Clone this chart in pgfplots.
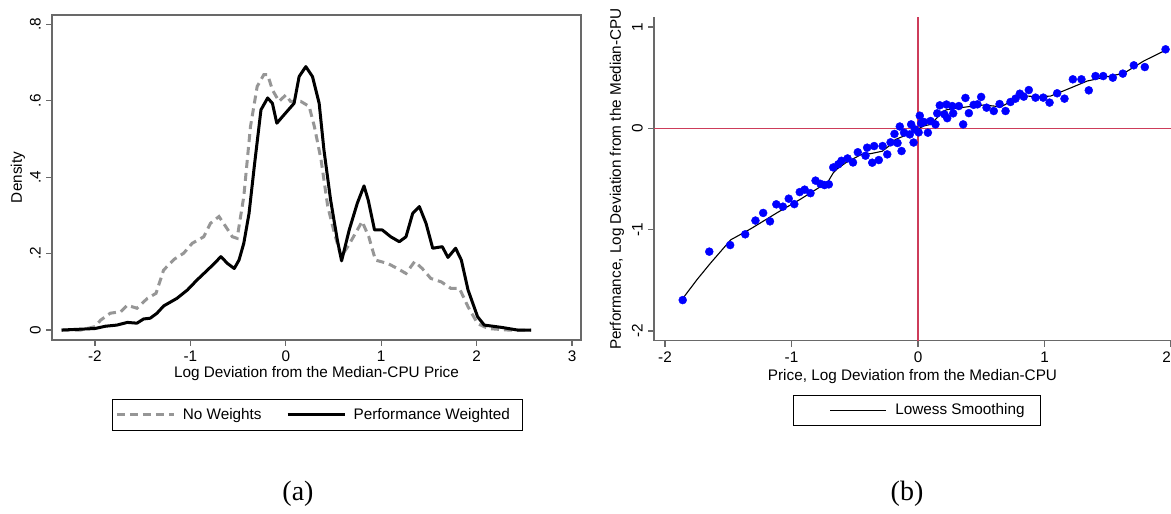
\documentclass[border=0pt]{standalone}
\usepackage{fontspec}
\setmainfont{Liberation Sans}
\newfontfamily\capfont{Liberation Serif}
\usepackage{pgfplots}
\pgfplotsset{compat=1.18}
\definecolor{axgray}{RGB}{105,105,105}
\definecolor{dashgray}{RGB}{150,150,150}
\definecolor{refred}{RGB}{205,60,90}

\pgfplotstableread{
x y
-2.35 0
-2.15 0
-2.0 0.009
-1.94 0.026
-1.84 0.044
-1.73 0.048
-1.66 0.065
-1.56 0.057
-1.45 0.083
-1.36 0.096
-1.28 0.157
-1.17 0.185
-1.07 0.201
-0.98 0.227
-0.86 0.244
-0.79 0.279
-0.70 0.297
-0.63 0.271
-0.56 0.244
-0.51 0.240
-0.44 0.349
-0.37 0.532
-0.30 0.637
-0.23 0.668
-0.19 0.668
-0.14 0.628
-0.07 0.598
0.0 0.615
0.05 0.598
0.157 0.598
0.245 0.585
0.30 0.532
0.37 0.445
0.44 0.323
0.51 0.253
0.58 0.192
0.65 0.218
0.73 0.253
0.80 0.284
0.87 0.244
0.94 0.183
1.07 0.174
1.17 0.161
1.26 0.148
1.35 0.179
1.43 0.161
1.52 0.135
1.63 0.126
1.73 0.109
1.82 0.109
1.91 0.061
2.01 0.017
2.12 0.004
2.33 0
2.57 0
}\noweights

\pgfplotstableread{
x y
-2.35 0
-2.0 0.004
-1.89 0.01
-1.77 0.013
-1.66 0.02
-1.56 0.018
-1.49 0.029
-1.42 0.031
-1.35 0.044
-1.28 0.063
-1.14 0.083
-1.03 0.105
-0.93 0.131
-0.82 0.157
-0.75 0.174
-0.68 0.192
-0.61 0.174
-0.54 0.161
-0.49 0.183
-0.44 0.227
-0.385 0.305
-0.33 0.428
-0.26 0.576
-0.19 0.607
-0.14 0.593
-0.094 0.541
-0.018 0.563
0.087 0.593
0.14 0.663
0.21 0.689
0.28 0.663
0.35 0.593
0.40 0.471
0.47 0.340
0.54 0.236
0.585 0.181
0.665 0.262
0.75 0.332
0.82 0.377
0.864 0.340
0.93 0.262
1.01 0.262
1.10 0.244
1.19 0.231
1.26 0.244
1.33 0.305
1.40 0.323
1.47 0.279
1.54 0.214
1.64 0.218
1.70 0.190
1.78 0.214
1.84 0.183
1.91 0.105
2.01 0.035
2.08 0.013
2.26 0.007
2.43 0.0
2.57 0.0
}\perfweighted

\pgfplotstableread{
x y
-1.86 -1.695
-1.65 -1.217
-1.485 -1.152
-1.366 -1.046
-1.285 -0.91
-1.224 -0.835
-1.17 -0.918
-1.12 -0.75
-1.068 -0.773
-1.022 -0.694
-0.978 -0.748
-0.935 -0.629
-0.896 -0.605
-0.85 -0.64
-0.81 -0.516
-0.771 -0.548
-0.739 -0.56
-0.705 -0.553
-0.67 -0.386
-0.63 -0.355
-0.605 -0.32
-0.557 -0.297
-0.514 -0.337
-0.476 -0.236
-0.415 -0.27
-0.402 -0.191
-0.362 -0.339
-0.347 -0.175
-0.31 -0.313
-0.28 -0.175
-0.243 -0.257
-0.217 -0.138
-0.186 -0.055
-0.162 -0.145
-0.144 0.018
-0.13 -0.224
-0.11 -0.043
-0.065 -0.06
-0.054 0.039
-0.035 -0.14
-0.025 -0.01
0.005 -0.04
0.014 0.125
0.025 0.05
0.046 0.063
0.078 -0.043
0.099 0.072
0.138 0.039
0.152 0.148
0.172 0.227
0.209 0.138
0.231 0.1
0.225 0.235
0.27 0.22
0.278 0.148
0.323 0.22
0.357 0.039
0.375 0.3
0.402 0.15
0.44 0.232
0.47 0.237
0.499 0.31
0.542 0.204
0.599 0.171
0.645 0.24
0.692 0.171
0.731 0.26
0.771 0.293
0.805 0.342
0.836 0.313
0.876 0.378
0.929 0.303
0.99 0.303
1.04 0.254
1.1 0.346
1.158 0.293
1.224 0.484
1.292 0.484
1.35 0.375
1.403 0.516
1.464 0.516
1.54 0.5
1.619 0.54
1.706 0.622
1.793 0.605
1.957 0.78
}\scatterpts

\pgfplotstableread{
x y
-1.86 -1.68
-1.745 -1.49
-1.64 -1.33
-1.48 -1.10
-1.32 -0.99
-1.11 -0.83
-0.93 -0.70
-0.77 -0.575
-0.718 -0.54
-0.67 -0.44
-0.639 -0.40
-0.56 -0.33
-0.45 -0.26
-0.375 -0.25
-0.283 -0.226
-0.23 -0.175
-0.178 -0.11
-0.112 -0.076
-0.059 -0.043
-0.006 -0.01
0.046 0.023
0.099 0.039
0.152 0.105
0.191 0.165
0.231 0.185
0.336 0.204
0.441 0.22
0.52 0.23
0.6 0.22
0.652 0.21
0.757 0.28
0.836 0.32
0.942 0.313
1.047 0.318
1.18 0.385
1.338 0.467
1.496 0.51
1.627 0.543
1.785 0.665
1.943 0.763
}\lowess

\begin{document}
\fontsize{15.3}{18}\selectfont
\begin{tikzpicture}[x=1pt,y=1pt]
\useasboundingbox (0,0) rectangle (1171,514);

% ---------- panel (a)
\begin{axis}[
  at={(52pt,174pt)}, anchor=south west, scale only axis,
  width=529pt, height=325pt,
  xmin=-2.45, xmax=3.094, ymin=-0.026, ymax=0.824,
  axis line style={axgray, line width=1.2pt},
  tick style={axgray, line width=1.2pt},
  tick align=outside, major tick length=6pt, tick pos=left,
  xtick={-2,-1,0,1,2,3}, xticklabels={-2,-1,0,1,2,3},
  ytick={0,0.2,0.4,0.6,0.8}, yticklabels={0,.2,.4,.6,.8},
  yticklabel style={rotate=90, anchor=south},
  xlabel={Log Deviation from the Median-CPU Price},
  ylabel={Density},
  xlabel style={at={([yshift=-34pt]axis description cs:0.5,0)}, anchor=center},
  ylabel style={at={([xshift=-34pt]axis description cs:0,0.5)}, anchor=center},
  legend style={at={(0.502,-0.1815)}, anchor=north, legend columns=2,
    draw=black, line width=0.8pt, inner xsep=3pt, inner ysep=6.8pt,
    /tikz/every even column/.append style={column sep=22.5pt}},
  legend image code/.code={\draw[#1] (0pt,0pt) -- (57pt,0pt); \path[draw=none] (0pt,0pt) -- (64pt,0pt);},
]
\addplot[dashgray, line width=3pt, dash pattern=on 8pt off 5pt] table[x=x,y=y] {\noweights};
\addlegendentry{No Weights}
\addplot[black, line width=3pt, line join=round] table[x=x,y=y] {\perfweighted};
\addlegendentry{Performance Weighted\hspace*{8pt}}
\end{axis}

% ---------- panel (b)
\begin{axis}[
  at={(654pt,173.3pt)}, anchor=south west, scale only axis,
  width=517pt, height=323.4pt,
  xmin=-2.087, xmax=2.0, ymin=-2.096, ymax=1.096,
  axis lines=left,
  axis line style={-, axgray, line width=1.2pt},
  tick style={axgray, line width=1.2pt},
  tick align=outside, major tick length=6pt,
  xtick={-2,-1,0,1,2}, xticklabels={-2,-1,0,1,\llap{2}},
  ytick={-2,-1,0,1}, yticklabels={-2,-1,0,1},
  yticklabel style={rotate=90, anchor=south},
  xlabel={Price, Log Deviation from the Median-CPU},
  ylabel={Performance, Log Deviation from the Median-CPU},
  xlabel style={at={([yshift=-36pt]axis description cs:0.5,0)}, anchor=center},
  ylabel style={at={([xshift=-37pt]axis description cs:0,0.5)}, anchor=center},
  legend style={at={(0.509,-0.1694)}, anchor=north,
    draw=black, line width=0.8pt, inner xsep=3pt, inner ysep=6pt},
  legend image code/.code={\path[draw=none] (0pt,0pt) -- (96.6pt,0pt); \draw[#1] (33.6pt,0pt) -- (89.7pt,0pt);},
]
\addplot[refred, line width=1.3pt, forget plot] coordinates {(-2.087,0) (2.0,0)};
\addplot[refred, line width=1.3pt, forget plot] coordinates {(0,-2.096) (0,1.096)};
\addplot[only marks, mark=*, mark size=4pt, blue, mark options={draw=blue, fill=blue}, forget plot] table[x=x,y=y] {\scatterpts};
\addplot[black, line width=1.1pt] table[x=x,y=y] {\lowess};
\addlegendentry{Lowess Smoothing\hspace*{11pt}}
\end{axis}

\node[font=\capfont\fontsize{28}{32}\selectfont] at (298,20) {(a)};
\node[font=\capfont\fontsize{28}{32}\selectfont] at (907,20) {(b)};
\end{tikzpicture}
\end{document}
